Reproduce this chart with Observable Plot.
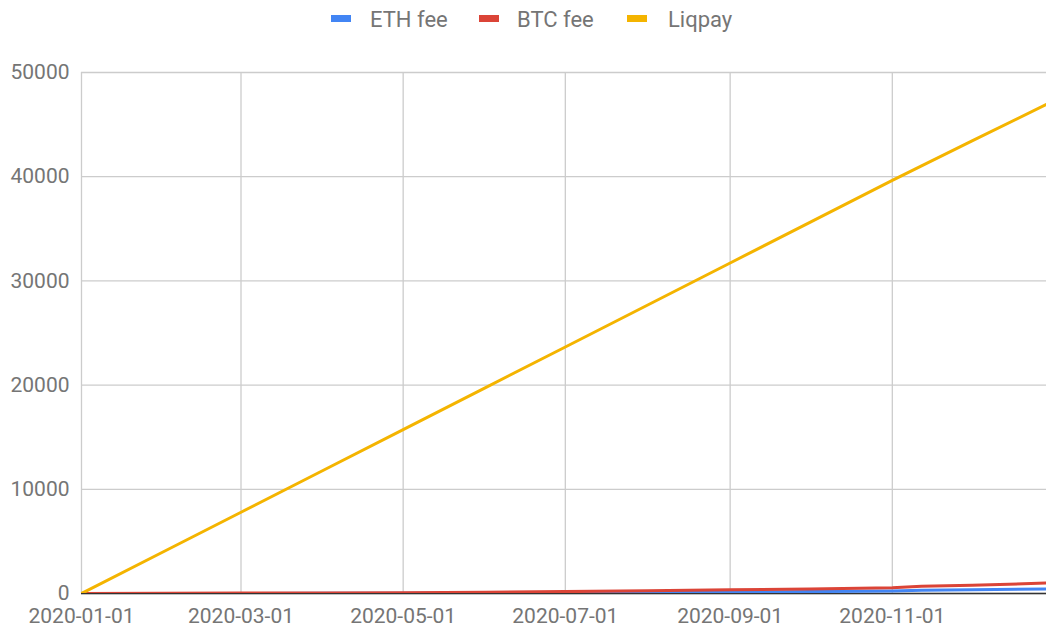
<!DOCTYPE html>
<html>
<head>
<meta charset="utf-8">
<script src="https://cdn.jsdelivr.net/npm/d3@7"></script>
<script src="https://cdn.jsdelivr.net/npm/@observablehq/plot@0.6"></script>
<style>
  body { margin: 0; background: #fff; font-family: Roboto, "Noto Sans", sans-serif; }
  #legend { height: 40px; position: relative; width: 1046px; }
  .item { position: absolute; top: 8px; font-size: 22px; color: #757575; line-height: 24px; }
  .sw { position: absolute; top: 15px; width: 20px; height: 7px; }
  svg { display: block; }
</style>
</head>
<body>
<div id="legend"></div>
<div id="chart"></div>
<script>
const dates = ["2020-01-01","2020-02-01","2020-03-01","2020-04-01","2020-05-01","2020-06-01","2020-07-01","2020-08-01","2020-09-01","2020-10-01","2020-11-01","2020-11-12","2020-12-01","2020-12-29"];
const ethFee = [0, 5, 10, 15, 25, 40, 60, 90, 130, 180, 240, 320, 360, 430];
const btcFee = [10, 20, 40, 60, 80, 130, 180, 260, 350, 430, 560, 700, 790, 1000];
const liqpay = [0, 4030, 7800, 11830, 15730, 19760, 23660, 27690, 31720, 35620, 39650, 41040, 43430, 46950];
const seriesNames = ["ETH fee", "BTC fee", "Liqpay"];
const seriesColors = ["#4285F4", "#DB4437", "#F4B400"];
const xTicks = ["2020-01-01","2020-03-01","2020-05-01","2020-07-01","2020-09-01","2020-11-01"];
const yTicks = [0, 10000, 20000, 30000, 40000, 50000];

const seriesValues = [ethFee, btcFee, liqpay];
const data = [];
seriesNames.forEach((name, i) => {
  dates.forEach((d, j) => data.push({series: name, date: new Date(d + "T00:00:00Z"), value: seriesValues[i][j]}));
});

// legend
const legend = document.getElementById("legend");
const legendPos = [[331, 370], [479, 517], [627, 668]];
seriesNames.forEach((name, i) => {
  const sw = document.createElement("div");
  sw.className = "sw";
  sw.style.left = legendPos[i][0] + "px";
  sw.style.background = seriesColors[i];
  legend.appendChild(sw);
  const t = document.createElement("div");
  t.className = "item";
  t.style.left = legendPos[i][1] + "px";
  t.textContent = name;
  legend.appendChild(t);
});

const xTickDates = xTicks.map(d => new Date(d + "T00:00:00Z"));
const chart = Plot.plot({
  width: 1046,
  height: 588,
  marginLeft: 81,
  marginRight: 0,
  marginTop: 32,
  marginBottom: 35,
  style: {fontFamily: "Roboto, sans-serif", fontSize: "21px", color: "#757575", background: "#fff", overflow: "visible"},
  x: {type: "utc", domain: [new Date("2020-01-01T00:00:00Z"), new Date("2020-12-29T00:00:00Z")]},
  y: {domain: [0, 50000]},
  color: {domain: seriesNames, range: seriesColors},
  marks: [
    Plot.gridY(yTicks, {stroke: "#cccccc", strokeOpacity: 1, strokeWidth: 1.3}),
    Plot.gridX(xTickDates, {stroke: "#cccccc", strokeOpacity: 1, strokeWidth: 1.3}),
    Plot.ruleY([0], {stroke: "#333333", strokeWidth: 1.5}),
    Plot.axisY(yTicks, {label: null, tickSize: 0, tickPadding: 12, tickFormat: d => String(d), fill: "#757575", fontSize: 21}),
    Plot.axisX(xTickDates, {label: null, tickSize: 0, tickPadding: 15, tickFormat: d3.utcFormat("%Y-%m-%d"), fill: "#757575", fontSize: 21}),
    Plot.line(data, {x: "date", y: "value", z: "series", stroke: "series", strokeWidth: 3, clip: true})
  ]
});
document.getElementById("chart").appendChild(chart);
</script>
</body>
</html>
